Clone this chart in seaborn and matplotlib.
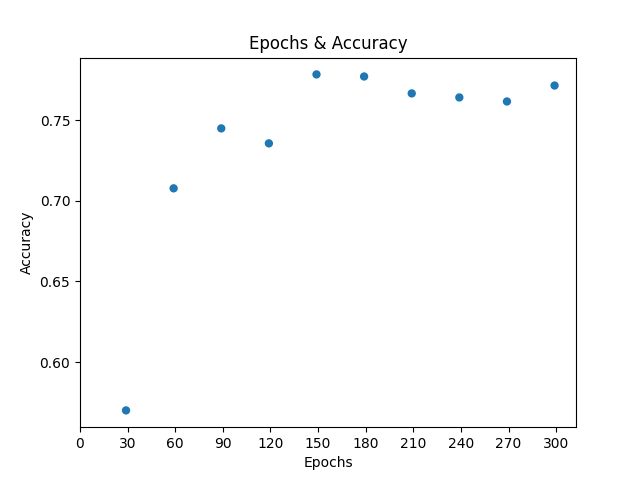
import matplotlib
matplotlib.use("Agg")
import matplotlib.pyplot as plt
import seaborn as sns

epochs = [29, 59, 89, 119, 149, 179, 209, 239, 269, 299]
accuracy = [0.570, 0.7078, 0.745, 0.7357, 0.7785, 0.7772, 0.7667, 0.7642, 0.7617, 0.7716]

fig, ax = plt.subplots(figsize=(6.4, 4.8), dpi=100)
sns.scatterplot(x=epochs, y=accuracy, ax=ax, color="#1f77b4", s=36, edgecolor="none")
ax.set_xticks(range(0, 301, 30))
ax.set_xlim(left=0)
ax.set_title("Epochs & Accuracy")
ax.set_xlabel("Epochs")
ax.set_ylabel("Accuracy")
fig.savefig("out.png")
